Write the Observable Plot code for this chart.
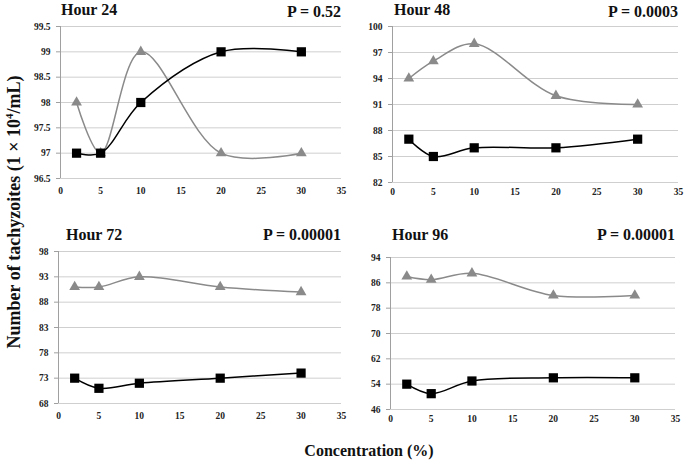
<!DOCTYPE html>
<html>
<head>
<meta charset="utf-8">
<script src="https://cdn.jsdelivr.net/npm/d3@7"></script>
<script src="https://cdn.jsdelivr.net/npm/@observablehq/plot@0.6"></script>
<style>
  html, body { margin: 0; padding: 0; background: #fff; }
  #root { position: relative; width: 685px; height: 462px; overflow: hidden; font-family: "Liberation Serif", "Times New Roman", serif; }
  .panel { position: absolute; }
  .lbl { position: absolute; font-weight: bold; color: #111; white-space: nowrap; font-family: "Liberation Serif", "Times New Roman", serif; }
</style>
</head>
<body>
<div id="root"></div>
<script>
// Data
const conc = [2, 5, 10, 20, 30];
const xTicks = [0, 5, 10, 15, 20, 25, 30, 35];

const hours = ["Hour 24", "Hour 48", "Hour 72", "Hour 96"];
const pValues = ["P = 0.52", "P = 0.0003", "P = 0.00001", "P = 0.00001"];

const squares24 = [97, 97, 98, 99, 99];
const triangles24 = [98, 97, 99, 97, 97];
const squares48 = [87, 85, 86, 86, 87];
const triangles48 = [94, 96, 98, 92, 91];
const squares72 = [73, 71, 72, 73, 74];
const triangles72 = [91, 91, 93, 91, 90];
const squares96 = [54, 51, 55, 56, 56];
const triangles96 = [88, 87, 89, 82, 82];

const yTicks24 = [96.5, 97, 97.5, 98, 98.5, 99, 99.5];
const yTicks48 = [82, 85, 88, 91, 94, 97, 100];
const yTicks72 = [68, 73, 78, 83, 88, 93, 98];
const yTicks96 = [46, 54, 62, 70, 78, 86, 94];

const panels = [
  {sq: squares24, tri: triangles24, ticks: yTicks24, left: 0, top: 0, w: 350, h: 200, ml: 60, mr: 9, mt: 26, mb: 22, xpad: 9, title: [61, 1], p: [341, 3]},
  {sq: squares48, tri: triangles48, ticks: yTicks48, left: 340, top: 0, w: 345, h: 200, ml: 52, mr: 7, mt: 26, mb: 18, xpad: 6, title: [394, 1], p: [678, 3]},
  {sq: squares72, tri: triangles72, ticks: yTicks72, left: 0, top: 220, w: 350, h: 210, ml: 58, mr: 9, mt: 31, mb: 27, xpad: 9, title: [66, 226], p: [341, 226]},
  {sq: squares96, tri: triangles96, ticks: yTicks96, left: 340, top: 220, w: 345, h: 210, ml: 50, mr: 10, mt: 37, mb: 21, xpad: 6, title: [392, 226], p: [675, 226]}
];

const serif = "'Liberation Serif', 'Times New Roman', serif";
const root = document.getElementById("root");

panels.forEach((pn, i) => {
  const sqData = conc.map((c, k) => ({x: c, y: pn.sq[k]}));
  const triData = conc.map((c, k) => ({x: c, y: pn.tri[k]}));
  const lo = pn.ticks[0], hi = pn.ticks[pn.ticks.length - 1];
  const chart = Plot.plot({
    width: pn.w, height: pn.h,
    marginLeft: pn.ml, marginRight: pn.mr, marginTop: pn.mt, marginBottom: pn.mb,
    style: {fontFamily: serif, fontSize: "9.5px", fontWeight: "bold", background: "transparent", color: "#222"},
    x: {domain: [0, 35]},
    y: {domain: [lo, hi]},
    marks: [
      Plot.gridY(pn.ticks, {stroke: "#cfcfcf", strokeOpacity: 1, strokeWidth: 1}),
      Plot.ruleX([0], {y1: lo, y2: hi, stroke: "#a0a0a0"}),
      Plot.axisY(pn.ticks, {tickSize: 4, tickPadding: 6, stroke: "#a0a0a0", label: null, tickFormat: d => String(d)}),
      Plot.axisX(xTicks, {tickSize: 0, tickPadding: pn.xpad, label: null, tickFormat: d => String(d)}),
      Plot.line(triData, {x: "x", y: "y", curve: "catmull-rom", stroke: "#8a8a8a", strokeWidth: 1.5}),
      Plot.line(sqData, {x: "x", y: "y", curve: "catmull-rom", stroke: "#000", strokeWidth: 1.5}),
      Plot.dot(triData, {x: "x", y: "y", symbol: "triangle", r: 4, fill: "#8a8a8a", stroke: "none"}),
      Plot.dot(sqData, {x: "x", y: "y", symbol: "square", r: 5.2, fill: "#000", stroke: "none"})
    ]
  });
  const wrap = document.createElement("div");
  wrap.className = "panel";
  wrap.style.left = pn.left + "px";
  wrap.style.top = pn.top + "px";
  wrap.appendChild(chart);
  root.appendChild(wrap);

  const t = document.createElement("div");
  t.className = "lbl";
  t.style.left = pn.title[0] + "px";
  t.style.top = pn.title[1] + "px";
  t.style.fontSize = "16px";
  t.textContent = hours[i];
  root.appendChild(t);

  const p = document.createElement("div");
  p.className = "lbl";
  p.style.right = (685 - pn.p[0]) + "px";
  p.style.top = pn.p[1] + "px";
  p.style.fontSize = "16px";
  p.textContent = pValues[i];
  root.appendChild(p);
});

const yl = document.createElement("div");
yl.className = "lbl";
yl.style.fontSize = "18px";
yl.style.left = "14px";
yl.style.top = "212px";
yl.style.transform = "translate(-50%, -50%) rotate(-90deg)";
yl.innerHTML = "Number of tachyzoites (1 × 10<sup style='font-size:11px'>4</sup>/mL)";
root.appendChild(yl);

const xl = document.createElement("div");
xl.className = "lbl";
xl.style.fontSize = "16px";
xl.style.left = "369px";
xl.style.top = "451px";
xl.style.transform = "translate(-50%, -50%)";
xl.textContent = "Concentration (%)";
root.appendChild(xl);
</script>
</body>
</html>
